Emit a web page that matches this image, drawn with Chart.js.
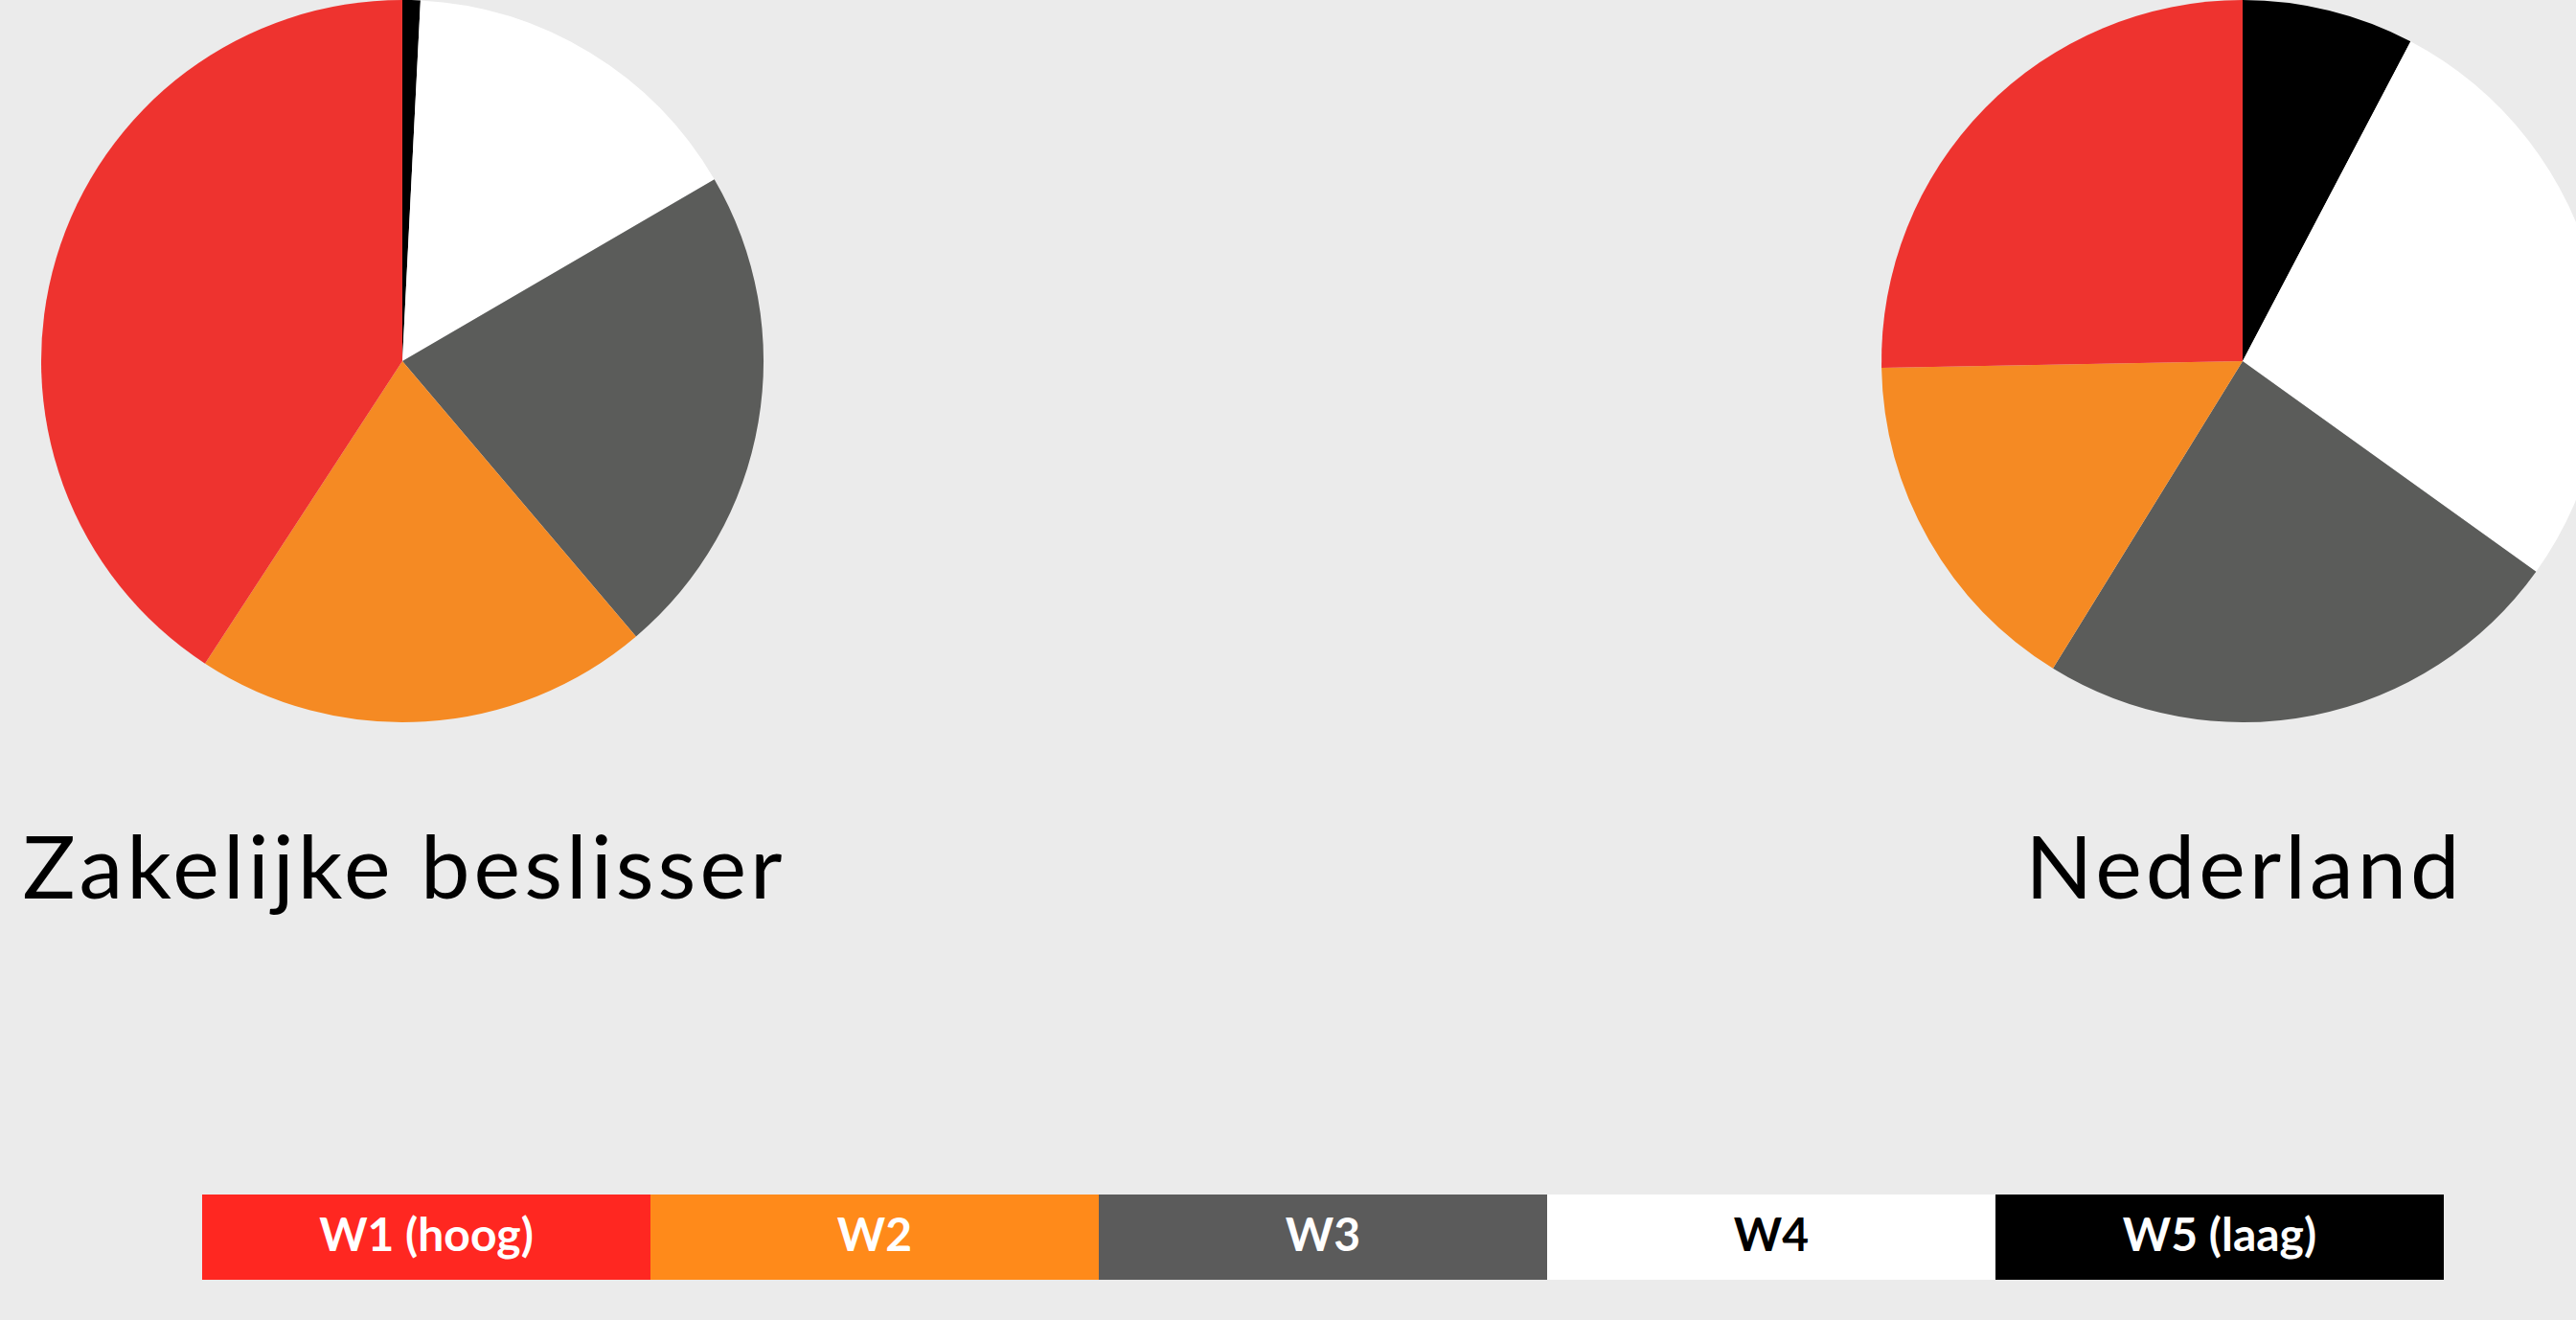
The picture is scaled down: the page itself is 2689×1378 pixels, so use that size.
<!DOCTYPE html>
<html>
<head>
<meta charset="utf-8">
<script src="https://cdn.jsdelivr.net/npm/chart.js@4"></script>
<style>
  html, body { margin: 0; padding: 0; background: #ebebeb; overflow: hidden; }
  body { width: 2689px; height: 1378px; position: relative; font-family: 'Lato', 'Open Sans', sans-serif; }
  .pie { position: absolute; top: -3px; width: 760px; height: 760px; }
  .pie canvas { display: block; }
  .label { position: absolute; top: 857px; width: 1000px; margin-left: -500px; text-align: center;
           font-size: 92px; line-height: 92px; font-weight: 400; color: #000; white-space: nowrap;
           letter-spacing: 4px; text-indent: 4px; }
  #legend { position: absolute; left: 211px; top: 1247px; width: 2340px; height: 89px; display: flex; }
  #legend div { flex: 1; display: flex; align-items: center; justify-content: center;
                font-size: 48px; font-weight: 700; padding-bottom: 8px; box-sizing: border-box; }
</style>
</head>
<body>
<div class="pie" style="left:40px"><canvas id="pie-zakelijk" width="760" height="760"></canvas></div>
<div class="pie" style="left:1961px"><canvas id="pie-nederland" width="760" height="760"></canvas></div>
<div class="label" id="label-zakelijk" style="left:420px"></div>
<div class="label" id="label-nederland" style="left:2341px"></div>
<div id="legend"></div>

<script>
// segments, W1 (hoog) .. W5 (laag)
var categories = ['W1 (hoog)', 'W2', 'W3', 'W4', 'W5 (laag)'];
var groups = ['Zakelijke beslisser', 'Nederland'];

// percentages
var zakelijkValues = [40.8, 20.4, 22.2, 15.8, 0.8];
var nederlandValues = [25.3, 15.9, 23.9, 27.2, 7.7];

var pieColors = ['#ee332f', '#f58a23', '#5b5c5a', '#ffffff', '#000000'];
var legendColors = ['#ff2721', '#ff8a1a', '#5b5b5b', '#ffffff', '#000000'];
var legendText = ['#ffffff', '#ffffff', '#ffffff', '#000000', '#ffffff'];

function makePie(id, values) {
    // pie runs clockwise from the top starting with W5, so feed it reversed
    var ctx = document.getElementById(id).getContext('2d');
    return new Chart(ctx, {
        type: 'pie',
        data: {
            labels: categories.slice().reverse(),
            datasets: [{
                data: values.slice().reverse(),
                backgroundColor: pieColors.slice().reverse(),
                borderWidth: 0,
                hoverOffset: 0
            }]
        },
        options: {
            responsive: false,
            animation: false,
            radius: 377,
            layout: { padding: 0 },
            plugins: {
                legend: { display: false },
                tooltip: { enabled: false }
            }
        }
    });
}

makePie('pie-zakelijk', zakelijkValues);
makePie('pie-nederland', nederlandValues);

document.getElementById('label-zakelijk').textContent = groups[0];
document.getElementById('label-nederland').textContent = groups[1];

var legend = document.getElementById('legend');
categories.forEach(function(cat, i) {
    var box = document.createElement('div');
    box.textContent = cat;
    box.style.background = legendColors[i];
    box.style.color = legendText[i];
    legend.appendChild(box);
});
</script>
</body>
</html>
